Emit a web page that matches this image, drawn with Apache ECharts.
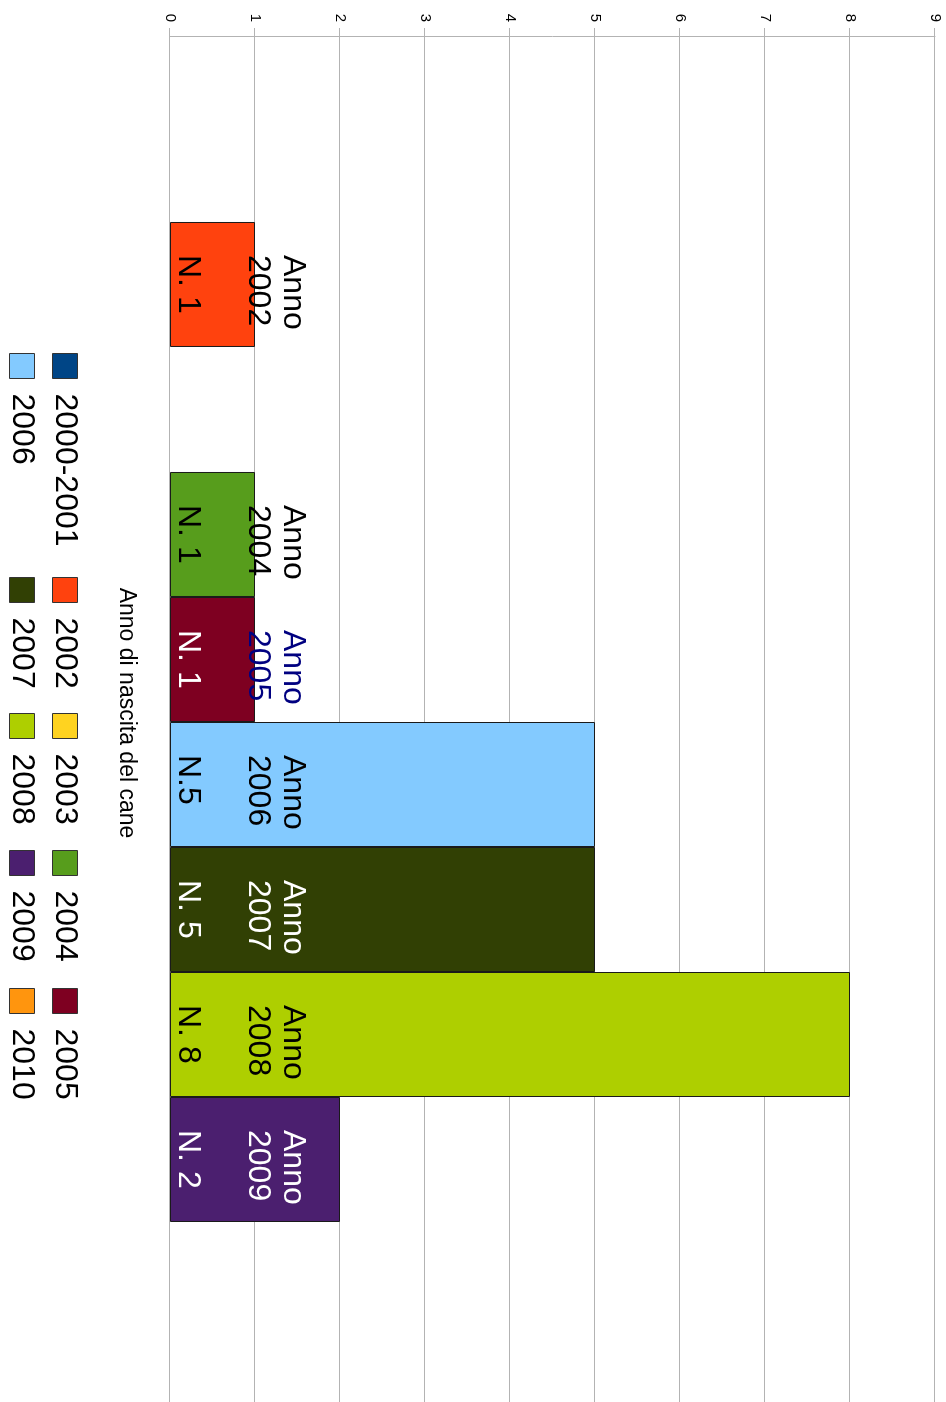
<!DOCTYPE html>
<html>
<head>
<meta charset="utf-8">
<script src="https://cdn.jsdelivr.net/npm/echarts@6/dist/echarts.min.js"></script>
<style>
html,body{margin:0;padding:0;width:946px;height:1402px;overflow:hidden;background:#fff;}
#c{position:absolute;left:0;top:0;width:1408px;height:946px;transform-origin:0 0;transform:translate(946px,0) rotate(90deg);}
</style>
</head>
<body>
<div id="c"></div>
<script>
// Data
const categories = ['Anno di nascita del cane'];
const seriesNames = ['2000-2001','2002','2003','2004','2005','2006','2007','2008','2009','2010'];
const seriesValues = [0, 1, 0, 1, 1, 5, 5, 8, 2, 0];
const countLabels = ['', 'N. 1', '', 'N. 1', 'N. 1', 'N.5', 'N. 5', 'N. 8', 'N. 2', ''];
const valueTicks = [0, 1, 2, 3, 4, 5, 6, 7, 8, 9];

const colors = ['#004586','#ff420e','#ffd320','#579d1c','#7e0021','#83caff','#314004','#aecf00','#4b1f6f','#ff950e'];
const topColors = ['#000','#000','#000','#000','#000080','#000','#fff','#000','#fff','#000'];
const bottomColors = ['#000','#000','#000','#000','#fff','#000','#fff','#000','#fff','#000'];
const FONT = 'Liberation Sans, Arial, sans-serif';

const chart = echarts.init(document.getElementById('c'), null, {renderer: 'canvas', width: 1408, height: 946});

const series = seriesNames.map((name, i) => ({
  name: name,
  type: 'bar',
  data: [seriesValues[i] === 0 ? '-' : seriesValues[i]],
  barGap: '0%',
  barCategoryGap: '8.892%',
  itemStyle: {color: colors[i], borderColor: '#1a1a1a', borderWidth: 1},
  emphasis: {disabled: true},
  label: {
    show: seriesValues[i] !== 0,
    position: 'insideBottomLeft',
    distance: 0,
    offset: [33, 0],
    fontFamily: FONT,
    fontSize: 32,
    lineHeight: 35,
    formatter: () => '{a|Anno}\n{a|' + name + '}\n\n{b|' + countLabels[i] + '}',
    rich: {
      a: {fontFamily: FONT, fontSize: 32, lineHeight: 35, color: topColors[i]},
      b: {fontFamily: FONT, fontSize: 32, lineHeight: 35, color: bottomColors[i]}
    }
  }
}));

// legend laid out as a 2-row grid: columns
const legendCols = [353, 577, 713, 850, 988];
const legends = legendCols.map((x, c) => ({
  orient: 'vertical',
  left: x,
  top: 865,
  height: 80,
  padding: 0,
  itemWidth: 25,
  itemHeight: 25,
  itemGap: 11,
  icon: 'rect',
  data: [seriesNames[c], seriesNames[c + 5]],
  itemStyle: {borderColor: '#333', borderWidth: 1},
  selectedMode: false,
  textStyle: {fontFamily: FONT, fontSize: 32, lineHeight: 32, color: '#000', padding: [0, 0, 0, 10]}
}));

chart.setOption({
  animation: false,
  backgroundColor: '#fff',
  color: colors,
  grid: {left: 36, right: 0, top: 11, bottom: 170, containLabel: false},
  legend: legends,
  xAxis: {
    type: 'category',
    data: categories,
    axisLine: {show: true, lineStyle: {color: '#b3b3b3', width: 1}},
    axisTick: {show: false},
    axisLabel: {fontFamily: FONT, fontSize: 23, color: '#000', margin: 32, padding: [0, 18, 0, 0]},
    splitLine: {show: false}
  },
  yAxis: {
    type: 'value',
    min: valueTicks[0],
    max: valueTicks[valueTicks.length - 1],
    interval: 1,
    axisLine: {show: true, lineStyle: {color: '#b3b3b3', width: 1}},
    axisTick: {show: true, length: 8, lineStyle: {color: '#b3b3b3'}},
    axisLabel: {fontFamily: FONT, fontSize: 15, color: '#000', margin: 14},
    splitLine: {show: true, lineStyle: {color: '#b3b3b3', width: 1}}
  },
  series: series
});
</script>
</body>
</html>
